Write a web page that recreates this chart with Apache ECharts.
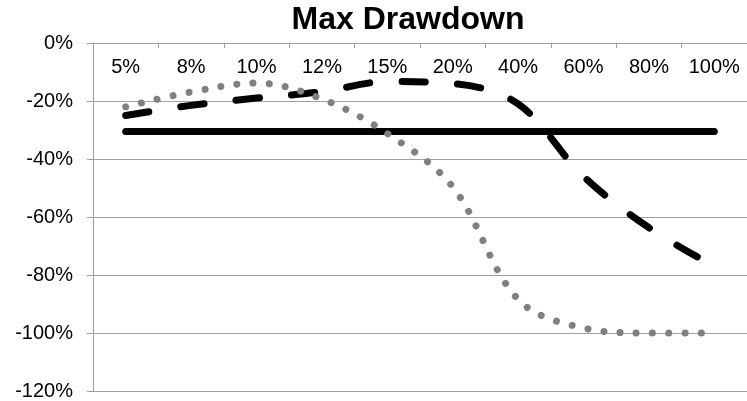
<!DOCTYPE html>
<html>
<head>
<meta charset="utf-8">
<style>
  html, body { margin: 0; padding: 0; background: #ffffff; }
  #chart { width: 747px; height: 401px; }
</style>
<script src="https://cdn.jsdelivr.net/npm/echarts@6/dist/echarts.min.js"></script>
</head>
<body>
<div id="chart"></div>
<script>
// Leverage levels along the category axis
const categories = ['5%', '8%', '10%', '12%', '15%', '20%', '40%', '60%', '80%', '100%'];

// Max drawdown per leverage level, in percent
const flatLine   = [-30.5, -30.5, -30.5, -30.5, -30.5, -30.5, -30.5, -30.5, -30.5, -30.5];
const dashedLine = [-25, -21.5, -19, -16.8, -13.3, -14, -21, -46, -63.7, -77];
const dottedLine = [-22, -16.9, -13.8, -19.3, -31.2, -49.6, -88.4, -98.3, -100, -100];

// Value axis range
const yMin = -120;
const yMax = 0;
const yStep = 20;

const FONT = '"Liberation Sans", Arial, sans-serif';

const chart = echarts.init(document.getElementById('chart'), null, { renderer: 'canvas' });

chart.setOption({
  animation: false,
  backgroundColor: '#ffffff',
  title: {
    text: 'Max Drawdown',
    left: 403,
    top: -1,
    textAlign: 'center',
    textStyle: { fontFamily: FONT, fontWeight: 'bold', fontSize: 32, color: '#000000' }
  },
  grid: { left: 93, right: -2, top: 43, bottom: 10, containLabel: false },
  xAxis: {
    type: 'category',
    position: 'top',
    data: categories,
    boundaryGap: true,
    axisLine: { show: true, onZero: false, lineStyle: { color: '#a0a0a0', width: 1 } },
    axisTick: { show: true, inside: true, length: 5, interval: 0, alignWithLabel: false, lineStyle: { color: '#a0a0a0' } },
    axisLabel: { inside: true, interval: 0, margin: 14, fontFamily: FONT, fontSize: 20, color: '#000000' },
    splitLine: { show: false }
  },
  yAxis: {
    type: 'value',
    min: yMin,
    max: yMax,
    interval: yStep,
    axisLine: { show: true, lineStyle: { color: '#a0a0a0', width: 1 } },
    axisTick: { show: true, inside: false, length: 6, lineStyle: { color: '#a0a0a0' } },
    axisLabel: {
      margin: 20,
      fontFamily: FONT,
      fontSize: 20,
      color: '#000000',
      formatter: v => v + '%'
    },
    splitLine: { show: true, lineStyle: { color: '#a0a0a0', width: 1 } }
  },
  series: [
    {
      name: 'flat',
      type: 'line',
      data: flatLine,
      symbol: 'none',
      lineStyle: { color: '#000000', width: 7, cap: 'round', join: 'round' },
      z: 3
    },
    {
      name: 'dashed',
      type: 'line',
      data: dashedLine,
      symbol: 'none',
      smooth: 0.35,
      lineStyle: { color: '#000000', width: 7, type: [23.5, 32.2], cap: 'round', join: 'round' },
      z: 4
    },
    {
      name: 'dotted',
      type: 'line',
      data: dottedLine,
      symbol: 'none',
      smooth: 0.35,
      lineStyle: { color: '#808080', width: 7, type: [0.01, 16.2], cap: 'round', join: 'round' },
      z: 5
    }
  ]
});
</script>
</body>
</html>
